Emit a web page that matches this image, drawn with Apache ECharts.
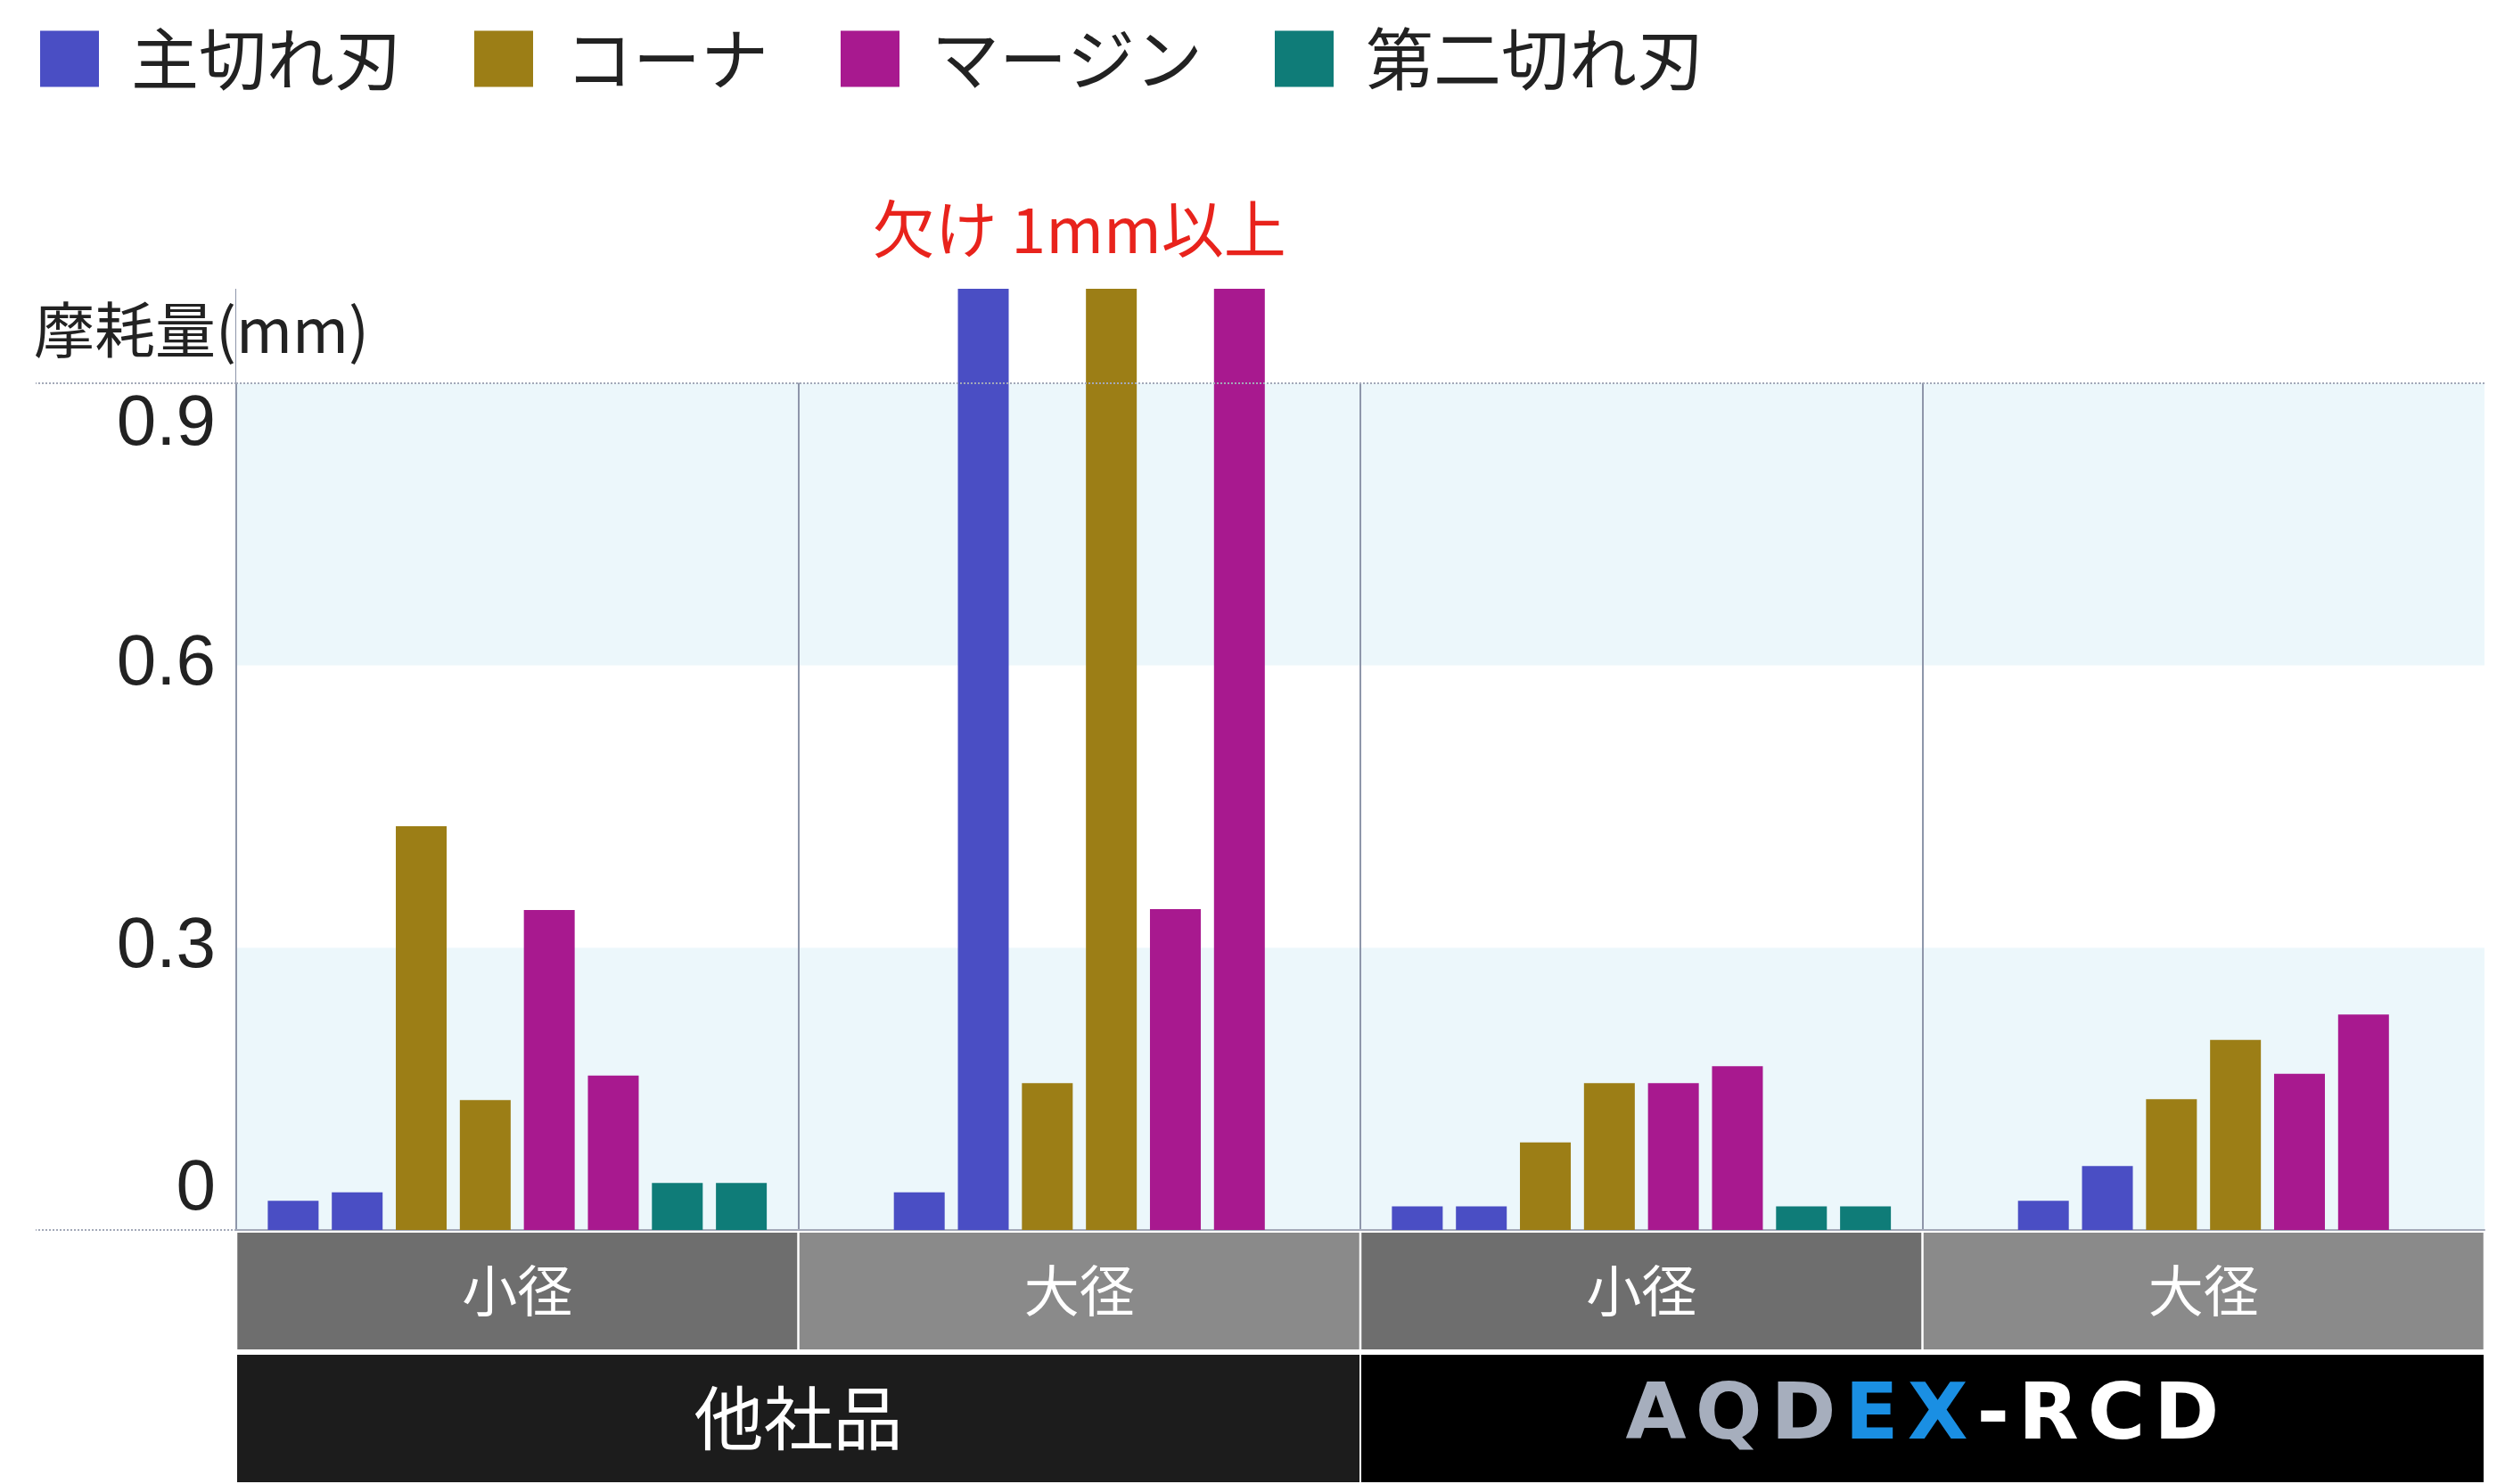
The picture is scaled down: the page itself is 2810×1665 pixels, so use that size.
<!DOCTYPE html>
<html>
<head>
<meta charset="utf-8">
<script src="https://cdn.jsdelivr.net/npm/echarts@6/dist/echarts.min.js"></script>
<style>
html,body{margin:0;padding:0;background:#fff;}
#c{width:2810px;height:1665px;}
</style>
</head>
<body>
<div id="c"></div>
<script>
// ---- data ----
const groups = ['他社品 小径', '他社品 大径', 'AQDEX-RCD 小径', 'AQDEX-RCD 大径'];
const sizeLabels = ['小径', '大径', '小径', '大径'];
const makerLabels = ['他社品', 'AQDEX-RCD'];
const seriesNames = ['主切れ刃', 'コーナ', 'マージン', '第二切れ刃'];
// two measurements (bars) per group; null = not shown
const mainEdge   = [[0.031, 0.040], [0.040, 1.0], [0.025, 0.025], [0.031, 0.068]];
const corner     = [[0.429, 0.138], [0.156, 1.0], [0.093, 0.156], [0.139, 0.202]];
const marginEdge = [[0.340, 0.164], [0.341, 1.0], [0.156, 0.174], [0.166, 0.229]];
const secondEdge = [[0.050, 0.050], null, [0.025, 0.025], null];
const yTicks = [0, 0.3, 0.6, 0.9];
const annotation = '欠け 1mm以上';
const yName = '摩耗量(mm)';

// ---- styles ----
const colors = ['#4a4ec4', '#9c7e16', '#a8198f', '#0f7c78'];
const FONT = 'Noto Sans CJK JP';
const valueSets = [mainEdge, corner, marginEdge, secondEdge];

// build 8 bar slots per group; present series centred within the slots
const SLOTS = 8;
const slotData = Array.from({length: SLOTS}, () => groups.map(() => '-'));
groups.forEach((g, gi) => {
  const present = valueSets.map((vs, si) => ({vs: vs[gi], si})).filter(o => o.vs);
  let slot = (SLOTS - present.length * 2) / 2;
  present.forEach(o => {
    o.vs.forEach(v => {
      slotData[slot][gi] = {value: v, itemStyle: {color: colors[o.si]}};
      slot++;
    });
  });
});

const series = slotData.map((d, i) => ({
  type: 'bar',
  name: 'slot' + i,
  xAxisIndex: 0,
  yAxisIndex: 0,
  data: d,
  barWidth: 57,
  barGap: '26%',
  silent: true,
  z: 3
}));
series[0].markLine = {
  silent: true,
  symbol: 'none',
  label: {show: false},
  lineStyle: {color: '#a3a9b8', width: 2, type: 'dotted'},
  data: [{yAxis: yTicks[3]}]
};
// annotation / top white band (not a data mark)
series.push({
  type: 'line', name: 'annotation', data: [], z: 2, silent: true,
  xAxisIndex: 0, yAxisIndex: 0,
  markArea: {
    silent: true,
    itemStyle: {color: '#ffffff'},
    data: [[{yAxis: yTicks[3]}, {yAxis: 1.0}]]
  },
  markPoint: {
    silent: true,
    symbol: 'rect',
    symbolSize: 0,
    label: {
      show: true, position: 'top', distance: 32,
      formatter: annotation, color: '#e8231c', fontSize: 70, fontFamily: FONT
    },
    data: [{coord: [groups[1], 1.0]}]
  }
});
seriesNames.forEach((n, i) => {
  series.push({type: 'line', name: n, data: [], color: colors[i], itemStyle: {color: colors[i]}});
});

const logoStyle = (c) => ({align: 'center', color: c, fontSize: 88, fontWeight: 'bold',
  fontFamily: 'DejaVu Sans', lineHeight: 143, padding: [0, 5]});

const chart = echarts.init(document.getElementById('c'));
chart.setOption({
  animation: false,
  backgroundColor: '#ffffff',
  title: {
    text: yName, left: 38, top: 336, padding: 0,
    textStyle: {fontSize: 68, fontWeight: 'normal', color: '#222', fontFamily: FONT}
  },
  legend: {
    left: 45, top: 28, padding: 0,
    itemWidth: 66, itemHeight: 63, itemGap: 81, icon: 'rect',
    selectedMode: false,
    textStyle: {fontSize: 76, color: '#222', fontFamily: FONT, padding: [0, 0, 0, 31]},
    data: seriesNames.map((n, i) => ({name: n, itemStyle: {color: colors[i]}}))
  },
  grid: {left: 265, right: 23, top: 324, bottom: 285, containLabel: false},
  xAxis: [
    {
      type: 'category', data: groups, position: 'bottom',
      axisLine: {show: true, lineStyle: {color: '#a3a9b8', width: 2}},
      axisTick: {show: false},
      axisLabel: {show: false},
      splitLine: {show: true, interval: 0, showMaxLine: false,
        lineStyle: {color: ['#8e96aa', '#8e96aa', '#8e96aa', '#8e96aa', 'rgba(0,0,0,0)'], width: 2}}
    },
    {
      type: 'category', data: groups.map((g, i) => ({
        value: g, textStyle: {backgroundColor: i % 2 ? '#8a8a8a' : '#6e6e6e'}
      })),
      position: 'bottom',
      axisLine: {show: false}, axisTick: {show: false}, splitLine: {show: false},
      axisLabel: {
        interval: 0, margin: 3, width: 628, height: 131,
        formatter: (v, i) => '{t|' + sizeLabels[i] + '}',
        rich: {t: {align: 'center', color: '#fff', fontSize: 62, fontFamily: FONT, lineHeight: 131}}
      }
    },
    {
      type: 'category', data: makerLabels.map((m, i) => ({
        value: m, textStyle: {backgroundColor: i === 0 ? '#1c1c1c' : '#000000'}
      })),
      position: 'bottom',
      axisLine: {show: false}, axisTick: {show: false}, splitLine: {show: false},
      axisLabel: {
        interval: 0, margin: 140, width: 1259, height: 143,
        formatter: (v) => {
          if (v === 'AQDEX-RCD') {
            const chars = v.split('');
            return chars.map((c, k) => '{' + (k < 3 ? 'g' : (k < 5 ? 'b' : 'w')) + '|' + c + '}').join('');
          }
          return '{t|' + v + '}';
        },
        rich: {
          t: {align: 'center', color: '#fff', fontSize: 78, fontFamily: FONT, lineHeight: 143},
          g: logoStyle('#a6aebd'),
          b: logoStyle('#1a8fe3'),
          w: logoStyle('#ffffff')
        }
      }
    }
  ],
  yAxis: [
    {
      type: 'value', min: 0, max: 1.0, interval: 0.3, position: 'left',
      axisLine: {show: false},
      axisTick: {show: false},
      axisLabel: {
        customValues: yTicks, margin: 23, fontSize: 80, color: '#222', fontFamily: 'Liberation Sans',
        formatter: (v) => {
          if (Math.abs(v) < 1e-9) return '{lo|0}';
          if (Math.abs(v - 0.9) < 1e-9) return '{hi|0.9}';
          return '{n|' + (Math.round(v * 10) / 10) + '}';
        },
        rich: {
          lo: {fontSize: 80, color: '#222', fontFamily: 'Liberation Sans', padding: [0, 0, 90, 0]},
          hi: {fontSize: 80, color: '#222', fontFamily: 'Liberation Sans', padding: [94, 0, 0, 0]},
          n: {fontSize: 80, color: '#222', fontFamily: 'Liberation Sans'}
        }
      },
      splitLine: {show: false},
      splitArea: {show: true, areaStyle: {color: ['#ecf7fb', '#ffffff']}}
    },
    {
      type: 'value', min: 0, max: 1.0, interval: 0.3, position: 'left',
      axisLine: {show: false},
      axisLabel: {show: false},
      splitLine: {show: false},
      splitArea: {show: false},
      axisTick: {show: true, customValues: [yTicks[0], yTicks[3]], length: 225,
        lineStyle: {color: '#a3a9b8', width: 2, type: 'dotted'}}
    }
  ],
  series: series
});
</script>
</body>
</html>
